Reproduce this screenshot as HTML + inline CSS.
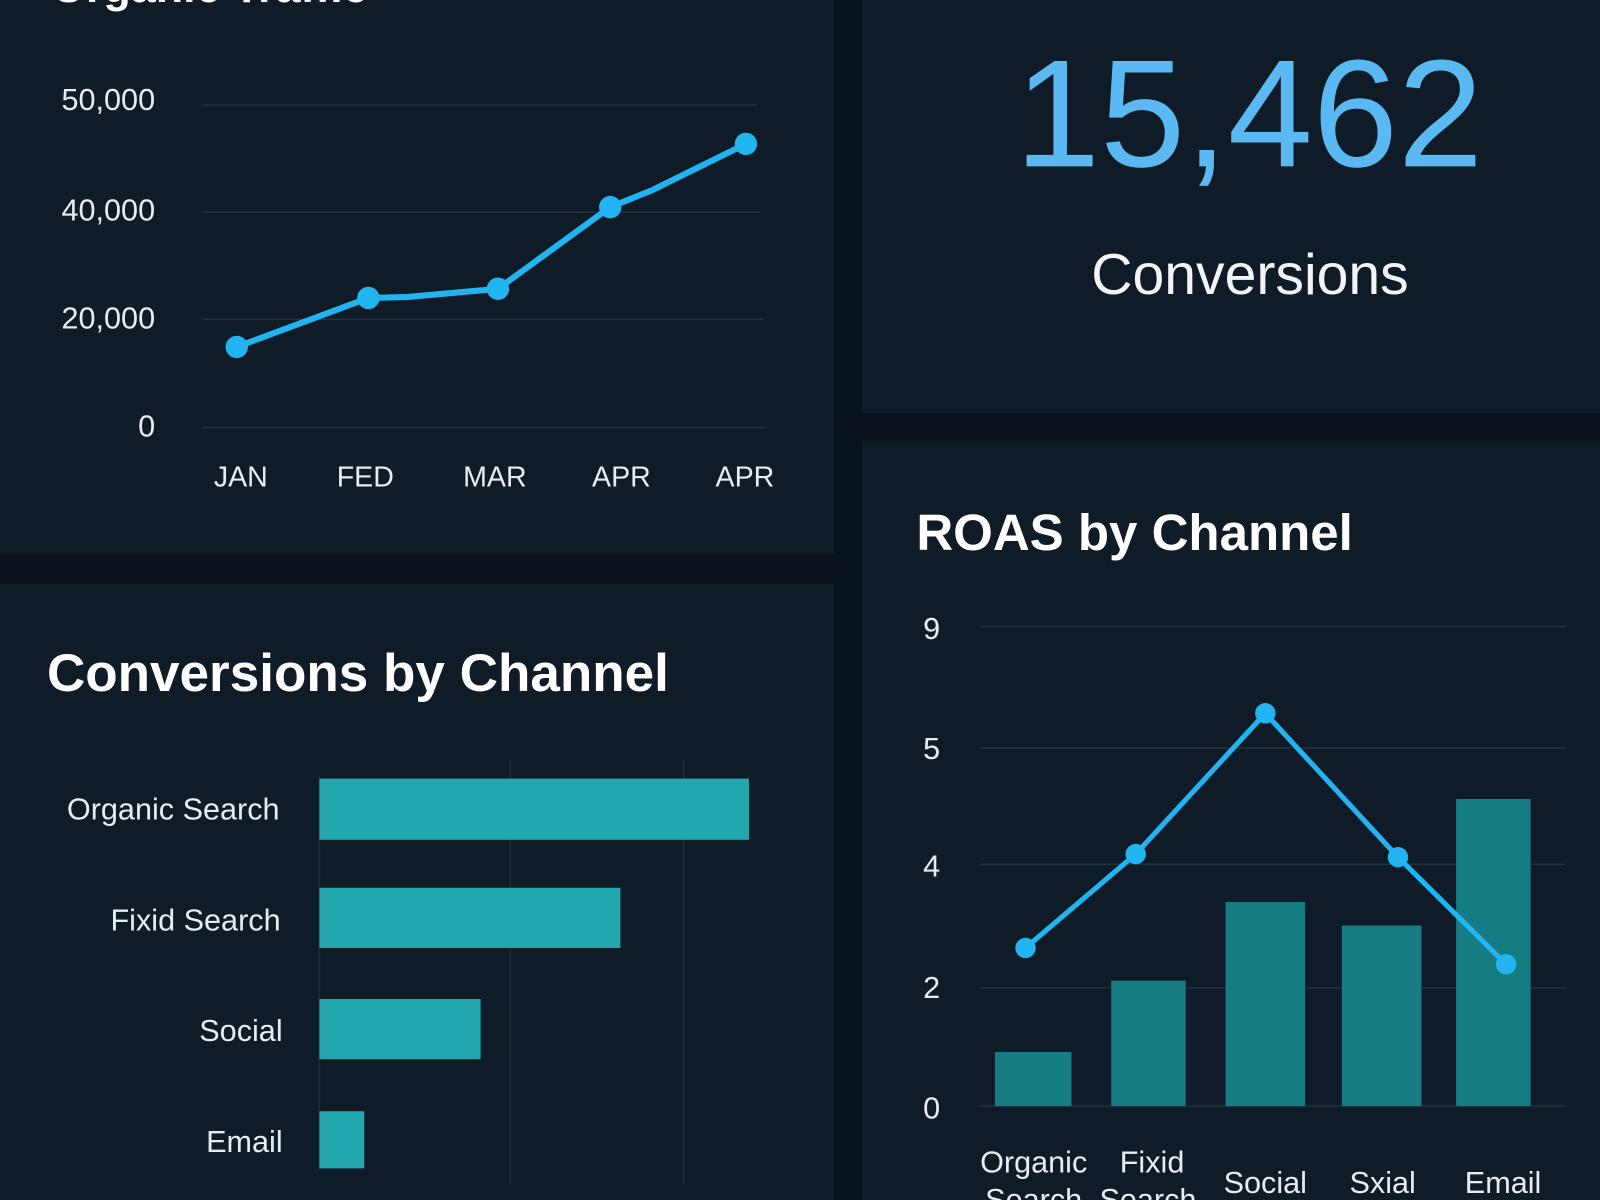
<!DOCTYPE html>
<html><head><meta charset="utf-8"><style>
html,body{margin:0;padding:0;background:#0a131b;}
svg{display:block;}
text{font-family:"Liberation Sans","DejaVu Sans",sans-serif;}
</style></head><body>
<svg width="1600" height="1200" viewBox="0 0 1568 1176" preserveAspectRatio="none" xmlns="http://www.w3.org/2000/svg">
<rect width="1568" height="1176" fill="#0a131b"/>
<rect x="0" y="0" width="817" height="543" fill="#0f1b26"/>
<rect x="0" y="572" width="817" height="604" fill="#0f1b26"/>
<rect x="845" y="0" width="723" height="405" fill="#0f1b26"/>
<rect x="845" y="432" width="723" height="744" fill="#0f1b26"/>

<!-- top-left line chart -->
<text x="50" y="2" fill="#fff" font-size="44" font-weight="bold">Organic Traffic</text>
<g stroke="#22323f" stroke-width="1.5">
<line x1="198" y1="103" x2="742" y2="103"/>
<line x1="198" y1="208" x2="745" y2="208"/>
<line x1="198" y1="313" x2="748" y2="313"/>
<line x1="198" y1="419" x2="750" y2="419"/>
</g>
<g fill="#e6edf2" font-size="30" text-anchor="end">
<text x="152" y="108">50,000</text>
<text x="152" y="216">40,000</text>
<text x="152" y="322">20,000</text>
<text x="152" y="428">0</text>
</g>
<g fill="#e6edf2" font-size="28" text-anchor="middle">
<text x="236" y="477">JAN</text>
<text x="358" y="477">FED</text>
<text x="485" y="477">MAR</text>
<text x="609" y="477">APR</text>
<text x="730" y="477">APR</text>
</g>
<polyline points="232,340 361,292 400,291 488,283 598,203 640,186 731,141" fill="none" stroke="#22b4f0" stroke-width="6" stroke-linejoin="round"/>
<g fill="#22b4f0"><circle cx="232" cy="340" r="11"/><circle cx="361" cy="292" r="11"/><circle cx="488" cy="283" r="11"/><circle cx="598" cy="203" r="11"/><circle cx="731" cy="141" r="11"/></g>

<!-- KPI -->
<text x="1224" y="163" fill="#5ab9f2" font-size="150" text-anchor="middle">15,462</text>
<text x="1225" y="288" fill="#f2f5f7" font-size="56" text-anchor="middle">Conversions</text>

<!-- bottom-left bars -->
<text x="46" y="677" fill="#fff" font-size="52" font-weight="bold">Conversions by Channel</text>
<g stroke="#1e2c38" stroke-width="1.5">
<line x1="500" y1="745" x2="500" y2="1160"/>
<line x1="670" y1="745" x2="670" y2="1160"/>
<line x1="313" y1="760" x2="313" y2="1146"/>
</g>
<g fill="#22a7ae">
<rect x="313" y="763" width="421" height="60"/>
<rect x="313" y="870" width="295" height="59"/>
<rect x="313" y="979" width="158" height="59"/>
<rect x="313" y="1089" width="44" height="56"/>
</g>
<g fill="#e6edf2" font-size="30" text-anchor="end">
<text x="274" y="803">Organic Search</text>
<text x="275" y="912">Fixid Search</text>
<text x="277" y="1020">Social</text>
<text x="277" y="1129">Email</text>
</g>

<!-- bottom-right ROAS -->
<text x="898" y="539" fill="#fff" font-size="50" font-weight="bold">ROAS by Channel</text>
<g stroke="#22323f" stroke-width="1.5">
<line x1="960" y1="614" x2="1535" y2="614"/>
<line x1="960" y1="733" x2="1535" y2="733"/>
<line x1="960" y1="847" x2="1535" y2="847"/>
<line x1="960" y1="968" x2="1535" y2="968"/>
<line x1="960" y1="1084" x2="1535" y2="1084"/>
</g>
<g fill="#e6edf2" font-size="30" text-anchor="middle">
<text x="913" y="626">9</text>
<text x="913" y="744">5</text>
<text x="913" y="859">4</text>
<text x="913" y="978">2</text>
<text x="913" y="1096">0</text>
</g>
<g fill="#167c84">
<rect x="975" y="1031" width="75" height="53"/>
<rect x="1089" y="961" width="73" height="123"/>
<rect x="1201" y="884" width="78" height="200"/>
<rect x="1315" y="907" width="78" height="177"/>
<rect x="1427" y="783" width="73" height="301"/>
</g>
<polyline points="1005,929 1113,837 1240,699 1370,840 1476,945" fill="none" stroke="#22b4f0" stroke-width="5" stroke-linejoin="round"/>
<g fill="#22b4f0"><circle cx="1005" cy="929" r="10"/><circle cx="1113" cy="837" r="10"/><circle cx="1240" cy="699" r="10"/><circle cx="1370" cy="840" r="10"/><circle cx="1476" cy="945" r="10"/></g>
<g fill="#e6edf2" font-size="30" text-anchor="middle">
<text x="1013" y="1149">Organic</text>
<text x="1013" y="1186">Search</text>
<text x="1129" y="1149">Fixid</text>
<text x="1125" y="1186">Search</text>
<text x="1240" y="1169">Social</text>
<text x="1355" y="1169">Sxial</text>
<text x="1473" y="1169">Email</text>
</g>
</svg>
</body></html>
